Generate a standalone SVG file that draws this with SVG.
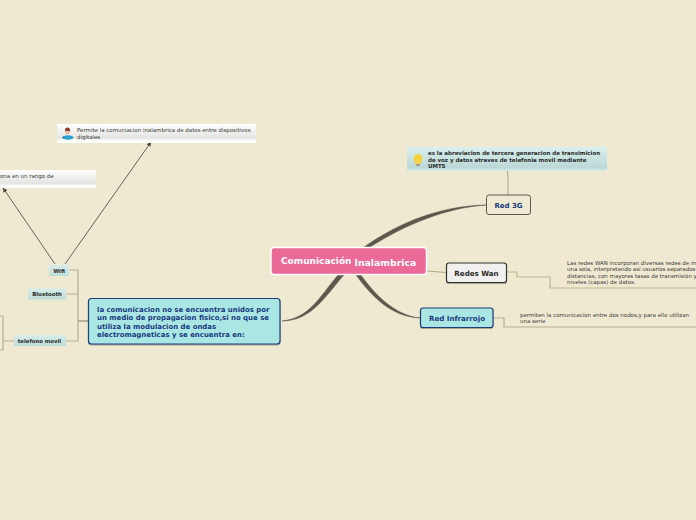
<svg xmlns="http://www.w3.org/2000/svg" width="696" height="520" viewBox="0 0 696 520">
<style>
text{font-family:"DejaVu Sans",sans-serif}
.thin{fill:none;stroke:#b5ad92;stroke-width:1.2}
.olive{fill:none;stroke:#b9bb8e;stroke-width:1.2}
.arrow{fill:none;stroke:#57534a;stroke-width:.9;marker-end:url(#ah)}
.small{font-size:5.47px;fill:#3a3a36}
.tag{font-size:5.35px;font-weight:bold;fill:#2b2b2b;text-anchor:middle}
.bold5{font-size:5.47px;font-weight:bold;fill:#2b2b2b}
.blue{fill:#17397e;font-weight:bold}
.pill{fill:url(#tagG)}
.white{fill:url(#noteG)}
</style>
<defs>
<linearGradient id="noteG" x1="0" y1="0" x2="0" y2="1"><stop offset="0" stop-color="#fff"/><stop offset=".75" stop-color="#e3e3e1"/><stop offset=".85" stop-color="#fbfbfa"/><stop offset="1" stop-color="#fff"/></linearGradient>
<linearGradient id="tagG" x1="0" y1="0" x2="0" y2="1"><stop offset="0" stop-color="#d8eeeb"/><stop offset="1" stop-color="#bddcd8"/></linearGradient>
<linearGradient id="noteB" x1="0" y1="0" x2="0" y2="1"><stop offset="0" stop-color="#d9f0ee"/><stop offset=".85" stop-color="#bcd8d6"/><stop offset="1" stop-color="#d5ecea"/></linearGradient>
<marker id="ah" markerWidth="6" markerHeight="6" refX="5" refY="3" orient="auto"><path d="M0 0.4L5.5 3L0 5.6Z" fill="#4e4b42"/></marker>
<filter id="sh" x="-10%" y="-10%" width="120%" height="130%"><feDropShadow dx="0" dy="1" stdDeviation=".7" flood-color="#000" flood-opacity=".3"/></filter>
</defs>
<rect width="696" height="520" fill="#f0e9d2"/>
<g id="connectors">
<path d="M282 321C312 321 326 295 344 275L338 275C320 296 310 318 282 321Z" fill="#5c594c" stroke="#5c594c" stroke-width=".5"/>
<path d="M486 205C440 206 400 222 364 247L370 247C405 225 445 208 486 205Z" fill="#5c594c" stroke="#5c594c" stroke-width=".5"/>
<path d="M420 318C392 317 372 297 356 275L361 275C376 296 395 315 420 318Z" fill="#5c594c" stroke="#5c594c" stroke-width=".5"/>
<path d="M427 271L446 272.500" fill="none" stroke="#a9ad7e" stroke-width="1.200"/>
<path class="olive" d="M507 272H517V277H550V288H696"/>
<path class="thin" d="M493 318H504V327H696"/>
<path class="thin" d="M508 195V178L507.500 172V170"/>
<path d="M88 321H78" fill="none" stroke="#8d8873" stroke-width="1.200"/>
<path class="thin" d="M69 270H78V341H66M66 294H78"/>
<path class="thin" d="M14 341H3M3 316H0M3 350H0M3 316V350"/>
<path class="arrow" d="M55 264L3 188"/>
<path class="arrow" d="M65 264L151 142"/>
</g>
<g id="note-wifi"><rect x="57" y="124" width="199" height="19" class="white"/><circle cx="67.500" cy="130" r="2.500" fill="#8c3b2c"/><path d="M65.500 131h4v3h-4z" fill="#e7b9a0"/><ellipse cx="68" cy="137.500" rx="5.500" ry="2.200" fill="#2aa0d0"/><path d="M62 137.500l2-1v2z" fill="#145a7d"/><text class="small" x="77" y="132">Permite la comuniacion inalambrica de datos entre dispositivos</text><text class="small" x="77" y="139">digitales</text></g>
<g id="note-left"><rect x="0" y="170" width="96" height="18" class="white"/><text class="small" x="0" y="178">ona en un rango de</text></g>
<g id="node-wifi"><rect x="49" y="265" width="20" height="11" class="pill"/><text class="tag" x="59" y="273">Wifi</text></g>
<g id="node-bluetooth"><rect x="28" y="288.500" width="38" height="11" class="pill"/><text class="tag" x="47" y="296">Bluetooth</text></g>
<g id="node-telefono"><rect x="14" y="335" width="52" height="11" class="pill"/><text class="tag" x="39.500" y="343">telefono movil</text></g>
<g id="node-medio"><rect x="88.500" y="298.500" width="191.500" height="45.500" rx="3" fill="#aae7e4" stroke="#1d3d78" stroke-width="1.200" filter="url(#sh)"/>
<text class="blue" font-size="6.950" x="97" y="311.500">la comunicacion no se encuentra unidos por</text><text class="blue" font-size="6.950" x="97" y="319.500">un medio de propagacion fisico,si no que se</text><text class="blue" font-size="6.950" x="97" y="329">utiliza la modulacion de ondas</text><text class="blue" font-size="6.950" x="97" y="337">electromagneticas y se encuentra en:</text></g>
<g id="node-central"><rect x="271" y="247.500" width="155.500" height="27" rx="3" fill="#ec6a98" stroke="#fff" stroke-width="1.500"/><text x="281" y="264" font-size="9" font-weight="bold" fill="#fff">Comunicación</text><text x="354.500" y="265.500" font-size="9.300" font-weight="bold" fill="#fff">Inalambrica</text></g>
<g id="note-3g"><rect x="407" y="147" width="200" height="24" fill="url(#noteB)"/><path d="M418 154a4.500 4.500 0 0 1 3 7.800v2h-6v-2a4.500 4.500 0 0 1 3-7.800z" fill="#f5d23d"/><rect x="416" y="164" width="4" height="2" fill="#a5a08e"/><text class="bold5" x="428" y="155">es la abreviacion de tercera generacion de transimicion</text><text class="bold5" x="428" y="162">de voz y datos atraves de telefonia movil mediante</text><text class="bold5" x="428" y="168">UMTS</text></g>
<g id="node-3g"><rect x="486.500" y="195" width="44" height="19.500" rx="2.500" fill="#f0e9d2" stroke="#5c594c" stroke-width="1"/><text class="blue" font-size="7" x="508.500" y="208" text-anchor="middle">Red 3G</text></g>
<g id="node-wan"><rect x="446.500" y="263" width="60" height="19.500" rx="2.500" fill="#f1f0ee" stroke="#33332f" stroke-width="1.200" filter="url(#sh)"/><text x="476.500" y="275.500" font-size="7.100" font-weight="bold" fill="#2b2b2b" text-anchor="middle">Redes Wan</text></g>
<g id="node-infrarrojo"><rect x="420.500" y="308" width="72.500" height="19.500" rx="2.500" fill="#aae7e4" stroke="#1d3d78" stroke-width="1.200" filter="url(#sh)"/><text class="blue" font-size="7.100" x="457" y="321" text-anchor="middle">Red Infrarrojo</text></g>
<g id="note-wan"><text class="small" x="567" y="265">Las redes WAN incorporan diversas redes de m</text><text class="small" x="567" y="271">una sola, interpretando así usuarios separados</text><text class="small" x="567" y="278">distancias, con mayores tasas de transmisión y</text><text class="small" x="567" y="284">niveles (capas) de datos.</text></g>
<g id="note-infra"><text class="small" x="520" y="317">permiten la comunicacion entre dos nodos,y para ello utilizan</text><text class="small" x="520" y="323">una serie</text></g>
</svg>
